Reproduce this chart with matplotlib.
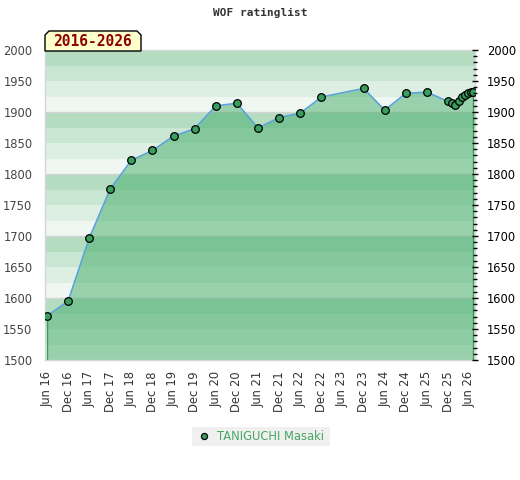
import matplotlib
matplotlib.use("Agg")
import matplotlib.pyplot as plt
import matplotlib.dates as mdates
from matplotlib.patches import Polygon, Rectangle
from matplotlib.ticker import MultipleLocator
import pandas as pd

# rating history
dates = ["2016-06-01", "2016-12-01", "2017-06-01", "2017-12-01", "2018-06-01",
         "2018-12-01", "2019-06-01", "2019-12-01", "2020-06-01", "2020-12-01",
         "2021-06-01", "2021-12-01", "2022-06-01", "2022-12-01", "2023-12-01",
         "2024-06-01", "2024-12-01", "2025-06-01", "2025-12-01", "2026-01-05",
         "2026-02-02", "2026-03-09", "2026-04-01", "2026-04-25", "2026-05-23",
         "2026-06-15", "2026-07-07"]
ratings = [1571, 1595, 1696, 1776, 1822, 1838, 1861, 1873, 1910, 1914,
           1874, 1891, 1898, 1924, 1938, 1903, 1930, 1932, 1917, 1914,
           1912, 1917, 1924, 1927, 1930, 1932, 1933]
player = "TANIGUCHI Masaki"
period = "2016-2026"
title = "WOF ratinglist"

x = pd.to_datetime(dates)
W, H = 520, 480

fig = plt.figure(figsize=(W / 100, H / 100), dpi=100)
ax = fig.add_axes([45 / W, 1 - 360 / H, 430 / W, 310 / H])

ymin, ymax = 1500, 2000
ax.set_ylim(ymin, ymax)
ax.set_xlim(x[0] - pd.Timedelta(days=17), x[-1] + pd.Timedelta(days=15))

# striped background, 4 bands per 100 points
band_cols = ["#b3dcc1", "#c8e6d2", "#dcefe2", "#f0f7f2"]
for top in range(ymax, ymin, -25):
    i = ((ymax - top) // 25) % 4
    ax.axhspan(top - 25, top, color=band_cols[i], lw=0, zorder=0)
for yy in range(ymin + 100, ymax, 100):
    ax.axhline(yy, color="#d4d4d4", lw=1, zorder=0.5)

# area under the rating line
ax.fill_between(x, ratings, ymin, color="#41ac68", alpha=0.5, lw=0, zorder=1)
ax.vlines([x[0], x[-1]], ymin, [ratings[0], ratings[-1]], color="#3a9a5c", lw=1, zorder=2)
ax.plot(x, ratings, color="#5aa3d8", lw=1.2, zorder=3)
ax.plot(x, ratings, ls="none", marker="o", ms=5.5, mfc="#3a9e5e", mec="black",
        mew=0.9, zorder=4, label=player)

# x axis: Jun / Dec ticks
ax.xaxis.set_major_locator(mdates.MonthLocator(bymonth=[6, 12]))
ax.xaxis.set_major_formatter(mdates.DateFormatter("%b %y"))
ax.tick_params(axis="x", length=0, pad=8, labelrotation=90, labelsize=8.3, labelcolor="#333333")
ax.tick_params(axis="y", length=0, pad=9, labelsize=8.3, labelcolor="#444444")
ax.yaxis.set_major_locator(MultipleLocator(50))

for s in ax.spines.values():
    s.set_color("#d6d6d6")
    s.set_linewidth(1)

# right axis with minor ticks
ax2 = ax.twinx()
ax2.set_ylim(ymin, ymax)
ax2.yaxis.set_major_locator(MultipleLocator(50))
ax2.yaxis.set_minor_locator(MultipleLocator(10))
ax2.tick_params(axis="y", which="major", direction="inout", length=5, width=1, color="black",
                labelsize=8.3, labelcolor="black", pad=6)
ax2.tick_params(axis="y", which="minor", direction="inout", length=3, width=1, color="black")
for s in ax2.spines.values():
    s.set_visible(False)

# title
fig.text(260 / W, 1 - 13 / H, title, ha="center", va="center",
         family="DejaVu Sans Mono", weight="bold", fontsize=8, color="#333333")

# period label box with chamfered top corners
px = [(45, 51), (45, 35), (49, 31), (137, 31), (141, 35), (141, 51)]
box = Polygon([(a / W, 1 - b / H) for a, b in px], closed=True, transform=fig.transFigure,
              facecolor="#ffffcc", edgecolor="black", lw=1, zorder=5)
fig.patches.append(box)
fig.text(93 / W, 1 - 41.5 / H, period, ha="center", va="center",
         family="DejaVu Sans Mono", weight="bold", fontsize=10.5, color="#8b0000", zorder=6)

# legend
fig.patches.append(Rectangle((192 / W, 1 - 446 / H), 138 / W, 19 / H, transform=fig.transFigure,
                             facecolor="#f0f0f0", edgecolor="none"))
h, l = ax.get_legend_handles_labels()
fig.legend(h, l, loc="center", bbox_to_anchor=(261 / W, 1 - 436.5 / H), frameon=False,
           fontsize=8.3, labelcolor="#45a862", handlelength=1, handletextpad=0.6,
           markerscale=0.8)

fig.savefig("out.png", dpi=100)
